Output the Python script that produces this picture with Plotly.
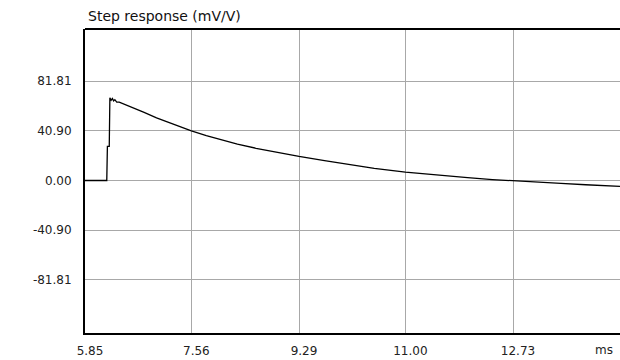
import plotly.graph_objects as go

time_ms = [5.85, 6.20, 6.21, 6.24, 6.25, 6.27, 6.29, 6.31, 6.33, 6.36, 6.40, 6.6, 6.8, 7.0, 7.2, 7.4,
           7.56, 7.8, 8.0, 8.3, 8.6, 9.0, 9.29, 9.7, 10.1, 10.5, 11.0, 11.5, 12.0, 12.4, 12.73,
           13.1, 13.5, 13.9, 14.2, 14.45]
step_mv = [0, 0, 28, 28, 68, 66, 67.5, 65.5, 66.5, 64.5, 64.5, 60.5, 56, 51.5, 47.5, 44,
           40.9, 37, 34, 30, 26.5, 22.5, 19.8, 16.3, 13, 10, 6.9, 4.3, 2.3, 0.8, 0,
           -1.2, -2.4, -3.5, -4.2, -4.8]

x_tick_vals = [5.85, 7.56, 9.29, 11.00, 12.73]
x_tick_text = ["5.85", "7.56", "9.29", "11.00", "12.73"]
y_tick_vals = [-81.81, -40.90, 0.0, 40.90, 81.81]
y_tick_text = ["-81.81", "-40.90", "0.00", "40.90", "81.81"]

fam = "DejaVu Sans, Verdana, sans-serif"
font = dict(family=fam, size=12, color="#222222")

fig = go.Figure()
fig.add_trace(go.Scatter(x=time_ms, y=step_mv, mode="lines",
                         line=dict(color="#000000", width=1.3), showlegend=False))

fig.update_layout(
    width=620, height=360,
    margin=dict(l=85, r=0, t=29, b=27),
    paper_bgcolor="white", plot_bgcolor="white",
    font=font,
    xaxis=dict(range=[5.85, 14.45], tickvals=x_tick_vals, ticktext=x_tick_text,
               showgrid=True, gridcolor="#a8a8a8", gridwidth=1, zeroline=False,
               showline=True, linecolor="#000000", linewidth=2,
               ticks="outside", ticklen=6, tickcolor="rgba(0,0,0,0)",
               ticklabelshift=5),
    yaxis=dict(range=[-125.4, 124.6], tickvals=y_tick_vals, ticktext=y_tick_text,
               showgrid=True, gridcolor="#a8a8a8", gridwidth=1, zeroline=False,
               showline=True, linecolor="#000000", linewidth=2,
               ticks="outside", ticklen=9, tickcolor="rgba(0,0,0,0)"),
    shapes=[dict(type="line", xref="paper", yref="paper", x0=0, x1=1, y0=1, y1=1,
                 line=dict(color="#000000", width=2))],
    annotations=[
        dict(text="Step response (mV/V)", xref="paper", yref="paper", x=0, y=1,
             xanchor="left", yanchor="bottom", xshift=1, yshift=3, showarrow=False,
             font=dict(family=fam, size=14, color="#111111")),
        dict(text="ms", xref="paper", yref="paper", x=1, y=0, xanchor="right", yanchor="top",
             xshift=-5, yshift=-8, showarrow=False, font=font),
    ],
)
fig.write_html("out.html")
